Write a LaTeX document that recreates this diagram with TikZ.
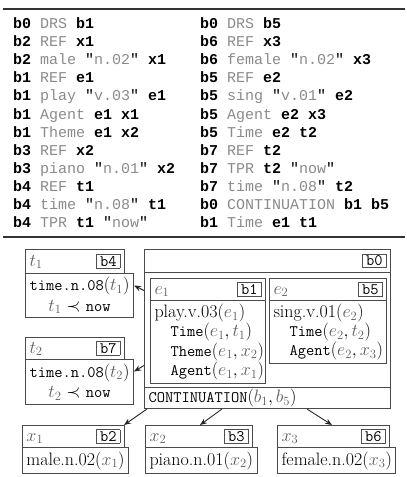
\documentclass[tikz,border=0pt]{standalone}
\usepackage{fix-cm}
\usepackage{fontspec}
\usepackage{tikz}
\usetikzlibrary{arrows.meta}
\setmonofont{Latin Modern Mono}[Scale=0.89]
\newfontfamily\tabfont{Liberation Mono}
\definecolor{boxline}{HTML}{4A4A4A}
\definecolor{relgray}{HTML}{8A8A8A}
\definecolor{vargray}{HTML}{5E5E5E}
\definecolor{labgray}{HTML}{505050}
\newcommand{\kw}[1]{{\bfseries #1}}
\newcommand{\rl}[1]{\textcolor{relgray}{#1}}
\newcommand{\qs}[1]{"\rl{#1}"}
\newcommand{\vv}[1]{\textcolor{vargray}{#1}}
\newcommand{\drslab}[1]{{\setlength{\fboxsep}{1.3pt}\setlength{\fboxrule}{0.8pt}\fcolorbox{labgray}{white}{\hspace{1.8pt}\texttt{#1}\hspace{1.8pt}}}}
\newcommand{\hdr}[2]{\noindent$\vv{#1}$\hfill\drslab{#2}}

\begin{document}
\begin{tikzpicture}[x=1pt,y=-1pt,every node/.style={font={\fontsize{18}{19.2}\selectfont}}]
\tikzset{
  rowtext/.style={anchor=base west, inner sep=0, font={\tabfont\fontsize{15}{18}\selectfont}},
  hd/.style={draw=boxline, line width=1pt, anchor=north west, inner xsep=4pt, inner ysep=0pt},
  bd/.style={hd, align=center, minimum width=#1},
  ev/.style={hd, align=left},
  conn/.style={-{Stealth[length=7pt,width=5.5pt]}, line width=0.9pt, draw=black!85},
  tabrule/.style={line width=1.6pt, draw=black!80}
}
\useasboundingbox (0,0) rectangle (407,477);
% clause table
\draw[tabrule] (3,9) -- (405,9);
\draw[tabrule] (3,237) -- (405,237);
\foreach \txt [count=\i] in {
  {\kw{b0} \rl{DRS} \kw{b1}}, {\kw{b2} \rl{REF} \kw{x1}}, {\kw{b2} \rl{male} \qs{n.02} \kw{x1}},
  {\kw{b1} \rl{REF} \kw{e1}}, {\kw{b1} \rl{play} \qs{v.03} \kw{e1}}, {\kw{b1} \rl{Agent} \kw{e1 x1}},
  {\kw{b1} \rl{Theme} \kw{e1 x2}}, {\kw{b3} \rl{REF} \kw{x2}}, {\kw{b3} \rl{piano} \qs{n.01} \kw{x2}},
  {\kw{b4} \rl{REF} \kw{t1}}, {\kw{b4} \rl{time} \qs{n.08} \kw{t1}}, {\kw{b4} \rl{TPR} \kw{t1} \qs{now}}}
  \node[rowtext] (lrow\i) at (13,{28.3+18.15*(\i-1)}) {\txt};
\foreach \txt [count=\i] in {
  {\kw{b0} \rl{DRS} \kw{b5}}, {\kw{b6} \rl{REF} \kw{x3}}, {\kw{b6} \rl{female} \qs{n.02} \kw{x3}},
  {\kw{b5} \rl{REF} \kw{e2}}, {\kw{b5} \rl{sing} \qs{v.01} \kw{e2}}, {\kw{b5} \rl{Agent} \kw{e2 x3}},
  {\kw{b5} \rl{Time} \kw{e2 t2}}, {\kw{b7} \rl{REF} \kw{t2}}, {\kw{b7} \rl{TPR} \kw{t2} \qs{now}},
  {\kw{b7} \rl{time} \qs{n.08} \kw{t2}}, {\kw{b0} \rl{CONTINUATION} \kw{b1 b5}}, {\kw{b1} \rl{Time} \kw{e1 t1}}}
  \node[rowtext] (rrow\i) at (200,{28.3+18.15*(\i-1)}) {\txt};
% time boxes
\node[hd, text width=91pt, minimum height=24pt] (t1h) at (25,249) {\hdr{t_1}{b4}};
\node[bd=99pt, minimum height=44pt, font={\fontsize{18}{20.5}\selectfont}] (t1b) at (25,273)
  {\texttt{time.n.08}$(\vv{t_1})$\\$\vv{t_1}\prec$ \texttt{now}};
\node[hd, text width=91pt, minimum height=22pt] (t2h) at (25,337) {\hdr{t_2}{b7}};
\node[bd=99pt, minimum height=45pt, font={\fontsize{18}{20.5}\selectfont}] (t2b) at (25,359)
  {\texttt{time.n.08}$(\vv{t_2})$\\$\vv{t_2}\prec$ \texttt{now}};
% outer box b0
\node[hd, text width=238pt, minimum height=23pt, align=right] (b0h) at (144,249) {\drslab{b0}};
\node[hd, text width=238pt, minimum height=115pt] (b0m) at (144,272) {};
\node[ev, text width=238pt, minimum height=21pt] (b0c) at (144,387)
  {\texttt{CONTINUATION}$(\vv{b_1},\vv{b_5})$};
% event boxes
\node[hd, text width=107pt, minimum height=22pt] (e1h) at (150,278) {\hdr{e_1}{b1}};
\node[ev, text width=107pt, minimum height=83pt] (e1b) at (150,300)
  {play.v.03$(\vv{e_1})$\\
   \hspace*{16pt}\texttt{Time}$(\vv{e_1},\vv{t_1})$\\
   \hspace*{16pt}\texttt{Theme}$(\vv{e_1},\vv{x_2})$\\
   \hspace*{16pt}\texttt{Agent}$(\vv{e_1},\vv{x_1})$};
\node[hd, text width=109pt, minimum height=22pt] (e2h) at (269,278) {\hdr{e_2}{b5}};
\node[ev, text width=109pt, minimum height=63pt] (e2b) at (269,300)
  {sing.v.01$(\vv{e_2})$\\
   \hspace*{16pt}\texttt{Time}$(\vv{e_2},\vv{t_2})$\\
   \hspace*{16pt}\texttt{Agent}$(\vv{e_2},\vv{x_3})$};
% referent boxes
\node[hd, text width=94pt, minimum height=22pt] (x1h) at (22,425) {\hdr{x_1}{b2}};
\node[bd=102pt, minimum height=26pt] (x1b) at (22,447) {male.n.02$(\vv{x_1})$};
\node[hd, text width=99pt, minimum height=22pt] (x2h) at (145,425) {\hdr{x_2}{b3}};
\node[bd=107pt, minimum height=26pt] (x2b) at (145,447) {piano.n.01$(\vv{x_2})$};
\node[hd, text width=104pt, minimum height=22pt] (x3h) at (277,425) {\hdr{x_3}{b6}};
\node[bd=112pt, minimum height=26pt] (x3b) at (277,447) {female.n.02$(\vv{x_3})$};
% pointers
\draw[conn] ([yshift=39.5pt]b0m.west) -- ([yshift=10pt]t1b.east);
\draw[conn] ([yshift=-35.5pt]b0m.west) -- ([yshift=10.5pt]t2b.east);
\draw[conn] ([xshift=3pt]b0c.south west) -- ([xshift=-1pt]x1h.north east);
\draw[conn] ([xshift=78pt]b0c.south west) -- ([xshift=55pt]x2h.north west);
\draw[conn] ([xshift=163pt]b0c.south west) -- ([xshift=55pt]x3h.north west);
\end{tikzpicture}
\end{document}
